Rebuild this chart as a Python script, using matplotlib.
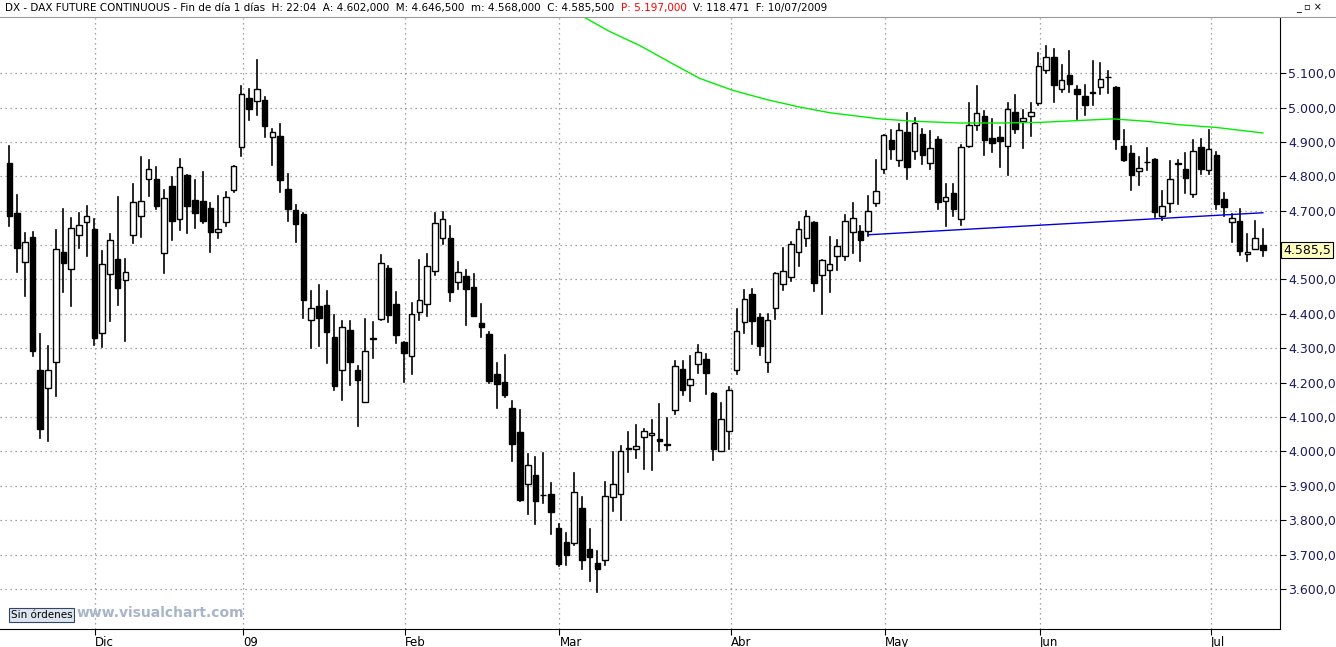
import matplotlib
matplotlib.use("Agg")
import matplotlib.pyplot as plt
from matplotlib.patches import Rectangle

# OHLC data (DAX future, daily)
opens = [4840,4693,4552,4623,4238,4185,4260,4579,4531,4630,4667,4646,4345,4517,4561,4498,4628,4686,4791,4791,
         4578,4773,4677,4805,4732,4727,4709,4639,4667,4759,4884,5029,5020,5023,4913,4916,4762,4703,4690,4383,
         4424,4427,4332,4236,4352,4236,4145,4328,4384,4532,4428,4317,4277,4405,4428,4524,4620,4620,4492,4509,
         4477,4373,4341,4224,4201,4125,4056,3905,3931,3873,3875,3777,3736,3733,3835,3716,3675,3684,3867,3875,
         4008,4006,4041,4048,4037,4022,4121,4240,4194,4255,4269,4170,4002,4060,4237,4377,4458,4391,4260,4417,
         4487,4507,4580,4621,4667,4513,4528,4568,4568,4638,4641,4641,4723,4821,4906,4848,4929,4874,4923,4839,
         4909,4728,4752,4676,4887,4949,4975,4911,4914,4888,4987,4961,4975,5013,5109,5147,5054,5094,5054,5033,
         5042,5059,5089,5059,4888,4868,4816,4842,4850,4685,4723,4836,4821,4749,4885,4818,4862,4734,4667,4670,
         4575,4589,4601]
highs = [4888,4745,4634,4637,4342,4306,4643,4706,4678,4693,4713,4675,4582,4632,4739,4559,4777,4856,4847,4826,
         4760,4797,4850,4805,4789,4812,4721,4742,4753,4831,5062,5055,5138,5032,4939,4951,4808,4718,4693,4466,
         4485,4466,4397,4378,4378,4248,4384,4375,4570,4538,4463,4317,4431,4556,4573,4692,4695,4655,4550,4527,
         4515,4428,4346,4256,4279,4146,4120,3992,3983,3995,3907,3790,3762,3937,3867,3774,3710,3910,3998,4015,
         4056,4076,4064,4090,4139,4098,4263,4263,4278,4310,4284,4170,4141,4188,4414,4470,4473,4400,4400,4519,
         4592,4609,4667,4699,4667,4557,4624,4615,4688,4723,4656,4743,4848,4920,4935,4952,4984,4970,4938,4932,
         4914,4778,4778,4891,5013,5062,4990,4967,4943,5013,5036,4993,5013,5158,5179,5170,5123,5164,5062,5065,
         5135,5129,5106,5059,4935,4888,4856,4882,4850,4757,4845,4847,4868,4906,4908,4935,4871,4752,4691,4705,
         4633,4670,4647]
lows = [4656,4522,4452,4277,4039,4030,4161,4464,4423,4592,4568,4309,4304,4379,4426,4321,4607,4624,4743,4705,
        4520,4615,4644,4635,4650,4664,4580,4621,4656,4755,4860,4964,4977,4915,4833,4755,4670,4609,4388,4301,
        4307,4257,4180,4151,4194,4075,4143,4273,4381,4377,4314,4203,4226,4381,4393,4512,4602,4438,4471,4367,
        4393,4332,4200,4127,4159,3973,3857,3819,3790,3851,3761,3668,3671,3727,3657,3622,3590,3669,3828,3802,
        3939,3982,3948,3945,4001,4004,4108,4164,4146,4228,4167,3975,4002,4007,4225,4345,4313,4281,4231,4385,
        4470,4496,4539,4598,4467,4400,4464,4528,4557,4577,4554,4627,4714,4810,4851,4830,4792,4850,4836,4821,
        4705,4656,4685,4659,4884,4936,4862,4871,4827,4803,4926,4882,4917,5007,5100,5016,5045,5045,4967,4978,
        5007,5039,5042,4879,4845,4760,4775,4818,4682,4673,4696,4720,4752,4740,4807,4807,4705,4685,4609,4572,
        4554,4589,4569]
closes = [4685,4592,4610,4292,4065,4238,4590,4548,4651,4657,4686,4330,4546,4616,4475,4523,4724,4727,4820,4714,
          4738,4670,4828,4714,4694,4670,4638,4648,4741,4831,5038,4996,5055,4947,4930,4790,4705,4662,4440,4418,
          4389,4346,4189,4361,4259,4209,4291,4329,4547,4398,4338,4285,4399,4439,4538,4663,4675,4463,4521,4471,
          4395,4361,4206,4195,4165,4023,3860,3960,3857,3872,3825,3674,3698,3881,3684,3692,3657,3870,3905,4000,
          4008,4015,4059,4054,4031,4019,4249,4179,4211,4290,4228,4007,4095,4179,4351,4444,4380,4307,4382,4519,
          4525,4603,4647,4685,4490,4557,4545,4598,4670,4679,4615,4699,4758,4920,4880,4935,4827,4955,4862,4882,
          4726,4740,4705,4885,4949,4984,4906,4897,4903,4996,4937,4969,4987,5120,5147,5065,5080,5068,5039,5007,
          5043,5083,5088,4908,4847,4804,4824,4841,4696,4714,4792,4836,4795,4874,4821,4879,4720,4711,4679,4583,
          4581,4621,4586]

month_labels = ["Dic", "09", "Feb", "Mar", "Abr", "May", "Jun", "Jul"]
month_pos = [11.1, 30.2, 51.1, 71.1, 93.3, 113.2, 133.2, 155.3]

ma_idx = [73.7, 77.5, 81.5, 85.5, 89.2, 93.5, 97.9, 102, 106, 112.5, 117, 122.8, 128, 133.4, 138, 142.6, 147, 151.2, 156, 162]
ma_val = [5270, 5222, 5180, 5130, 5085, 5050, 5023, 5002, 4985, 4967, 4960, 4955, 4955, 4957, 4962, 4967, 4960, 4950, 4942, 4926]
trend_idx = [111, 162]
trend_val = [4630, 4694]
yticks = list(range(3600, 5101, 100))
last_price = 4585.5

fig = plt.figure(figsize=(13.36, 6.47), dpi=100)
ax = fig.add_axes([0.0, 0.028, 0.958, 0.944])
n = len(opens)
for i in range(n):
    o, h, l, c = opens[i], highs[i], lows[i], closes[i]
    ax.plot([i, i], [l, h], color="black", lw=1.2, zorder=2)
    lo, hi = min(o, c), max(o, c)
    hgt = max(hi - lo, 2)
    fc = "white" if c >= o else "black"
    ax.add_patch(Rectangle((i - 0.36, lo), 0.72, hgt, facecolor=fc, edgecolor="black", lw=1.0, zorder=3))

ax.plot(ma_idx, ma_val, color="#00ee00", lw=1.0, zorder=4)
ax.plot(trend_idx, trend_val, color="#0000dd", lw=1.0, zorder=4)

ax.set_xlim(-1.2, 164.2)
ax.set_ylim(3484, 5260)
for y in yticks:
    ax.axhline(y, color="#888888", ls=(0, (1, 3)), lw=0.9, zorder=1)
for x in month_pos:
    ax.axvline(x, color="#888888", ls=(0, (1, 3)), lw=0.9, zorder=1)

ax.yaxis.tick_right()
ax.set_yticks(yticks)
# the 4.600,0 label is hidden behind the last-price tag in the original
ax.set_yticklabels(["" if v == 4600 else f"{v//1000}.{v%1000:03d},0" for v in yticks], color="#1a1a60", fontsize=9)
ax.tick_params(axis="y", length=4, pad=2)
ax.set_xticks(month_pos)
ax.set_xticklabels(month_labels, fontsize=8.5, ha="left")
ax.tick_params(axis="x", length=4, pad=1)
for s in ["top", "left"]:
    ax.spines[s].set_visible(False)

ax.text(164.6, last_price, "4.585,5", fontsize=9, va="center", ha="left", zorder=10,
        bbox=dict(boxstyle="square,pad=0.15", fc="#ffffc0", ec="black", lw=0.8), clip_on=False)

# header, chained pieces
fig.canvas.draw()
r = fig.canvas.get_renderer()
xpos = 0.004
for txt, col in [("DX - DAX FUTURE CONTINUOUS - Fin de día 1 días  H: 22:04  A: 4.602,000  M: 4.646,500  m: 4.568,000  C: 4.585,500  ", "black"),
                 ("P: 5.197,000  ", "red"), ("V: 118.471  F: 10/07/2009", "black")]:
    t = fig.text(xpos, 0.988, txt, fontsize=7.5, va="center", ha="left", color=col)
    bb = t.get_window_extent(r)
    xpos += bb.width / fig.bbox.width
fig.add_artist(plt.Line2D([0, 1], [0.973, 0.973], color="#999999", lw=0.8))
fig.text(0.97, 0.988, "_ ▫ ×", fontsize=7, va="center", ha="left")

fig.text(0.008, 0.05, "Sin órdenes", fontsize=7.5, va="center", ha="left",
         bbox=dict(boxstyle="square,pad=0.2", fc="#dde6f0", ec="#334466", lw=0.8))
fig.text(0.057, 0.052, "www.visualchart.com", fontsize=10, va="center", ha="left",
         color="#a8b4c8", fontweight="bold")

fig.savefig("out.png", dpi=100)
